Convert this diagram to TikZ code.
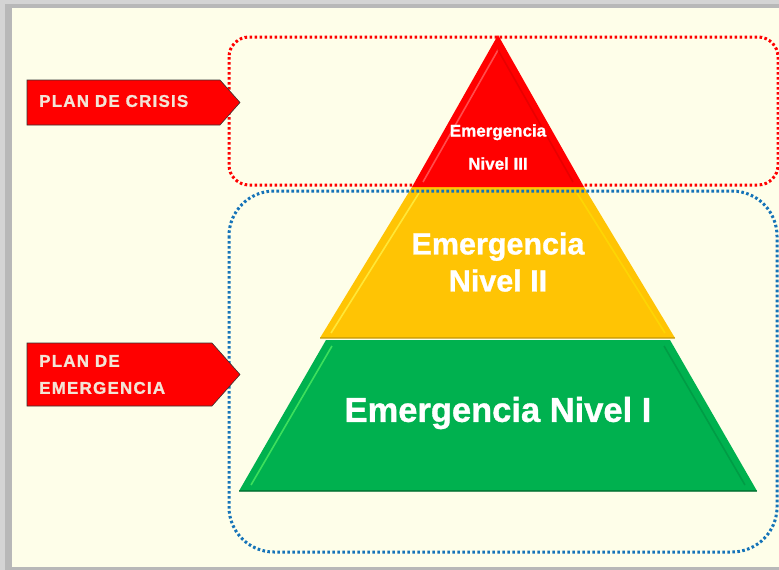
\documentclass[tikz,border=0pt]{standalone}
\usepackage{fontspec}
\setmainfont{Liberation Sans}
\newfontfamily\labfont[LetterSpace=7,FakeBold=1.2]{Liberation Sans}
\newfontfamily\pyrfont[FakeBold=1]{Liberation Sans}
\begin{document}
\begin{tikzpicture}[x=1pt,y=-1pt,
  dotbox/.style={line width=3pt,dash pattern=on 2.6pt off 2.4pt},
  bevel/.style={line width=1.6pt,line join=round},
  arrowshape/.style={fill=arrowred,draw=black!80,line width=0.6pt,line join=miter},
  labtext/.style={text=labcol,font=\labfont\bfseries\fontsize{17}{27}\selectfont,align=left,inner sep=0pt,anchor=west},
  pyrtext/.style={text=white,align=center,inner sep=0pt}]
\definecolor{cream}{HTML}{FEFEE9}
\definecolor{framegray}{HTML}{B8B8B8}
\definecolor{arrowred}{HTML}{FF0000}
\definecolor{labcol}{HTML}{F3E4D6}
\definecolor{pyrred}{HTML}{FF0000}
\definecolor{pyryellow}{HTML}{FFC404}
\definecolor{pyrgreen}{HTML}{00B14F}
\definecolor{boxred}{HTML}{FF0000}
\definecolor{boxblue}{HTML}{1573B8}
\useasboundingbox (0,0) rectangle (779,570);
% frame and background
\fill[framegray] (0,0) rectangle (779,570);
\fill[framegray!60] (0,0) rectangle (779,4);
\fill[framegray!60] (0,0) rectangle (5,570);
\fill[cream] (12,8) rectangle (779,567);
% pyramid
\fill[pyrgreen] (326,340) -- (670,340) -- (757,491) -- (239,491) -- cycle;
\draw[bevel,green!60!white,opacity=0.6] (251,485) -- (332,346);
\draw[bevel,black!40!pyrgreen,opacity=0.7] (239,491) -- (757,491);
\draw[bevel,black!20!pyrgreen,opacity=0.6] (664,346) -- (745,485);
\fill[pyryellow] (412,187) -- (584,187) -- (675,338) -- (320,338) -- cycle;
\draw[bevel,yellow!70!white,opacity=0.7] (331,333) -- (419,193);
\draw[bevel,yellow!80!orange,opacity=0.7] (577,193) -- (665,333);
\draw[bevel,black!25!pyryellow,opacity=0.6] (320,338) -- (675,338);
\fill[pyrred] (498,35) -- (584,187) -- (412,187) -- cycle;
\draw[bevel,red!40!white,opacity=0.5] (423,182) -- (498,50);
\draw[bevel,black!15!pyrred,opacity=0.6] (498,50) -- (573,182);
% dotted groups
\draw[dotbox,boxred,rounded corners=20pt] (229,37) rectangle (778,185);
\draw[dotbox,boxblue,rounded corners=45pt] (229,191) rectangle (777,552);
% labels arrows
\draw[arrowshape] (27,80) -- (220,80) -- (240,102.5) -- (220,125) -- (27,125) -- cycle;
\draw[arrowshape] (27,343) -- (212,343) -- (240,374.5) -- (212,406) -- (27,406) -- cycle;
\node[labtext] (crisis) at (39,101) {PLAN DE CRISIS};
\node[labtext] (emerg) at (39,374.5) {PLAN DE\\EMERGENCIA};
% pyramid texts
\node[pyrtext,font=\pyrfont\bfseries\fontsize{17}{33}\selectfont] (n3) at (498,147) {Emergencia\\Nivel III};
\node[pyrtext,font=\pyrfont\bfseries\fontsize{30.5}{37}\selectfont] (n2) at (498,262) {Emergencia\\Nivel II};
\node[pyrtext,font=\pyrfont\bfseries\fontsize{34.5}{40}\selectfont] (n1) at (498,413) {Emergencia Nivel I};
\end{tikzpicture}
\end{document}
